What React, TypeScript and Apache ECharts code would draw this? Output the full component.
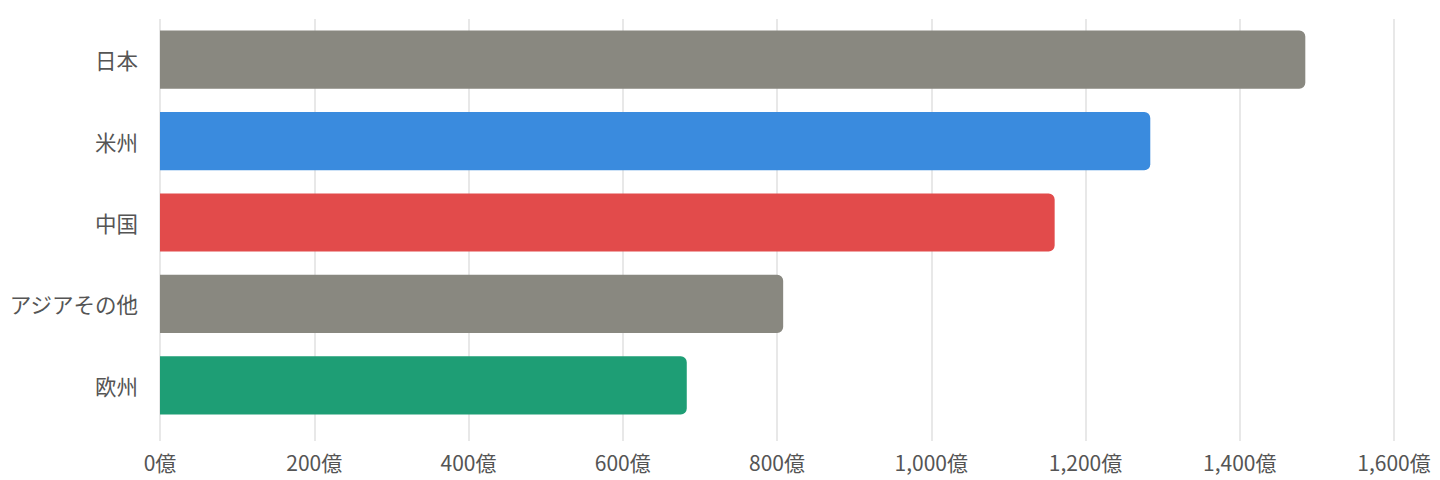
import React, { useEffect, useRef } from "react";
import * as echarts from "echarts";

const categories = ["日本", "米州", "中国", "アジアその他", "欧州"];
const values = [1485, 1284, 1160, 808, 683];
const barColors = ["#898880", "#3a8bde", "#e24b4b", "#898880", "#1e9e75"];
const xTicks = [0, 200, 400, 600, 800, 1000, 1200, 1400, 1600];

export default function App() {
  const ref = useRef<HTMLDivElement>(null);
  useEffect(() => {
    document.body.style.margin = "0";
    if (!ref.current) return;
    const chart = echarts.init(ref.current, undefined, { renderer: "svg" });
    const font = "'Noto Sans CJK JP', 'Noto Sans', sans-serif";
    const xMin = xTicks[0];
    const xMax = xTicks[xTicks.length - 1];
    chart.setOption({
      animation: false,
      grid: [
        { left: 160, right: 46, top: 19, bottom: 54, containLabel: false },
        { left: 160, right: 46, top: 19, bottom: 39, containLabel: false },
      ],
      xAxis: [
        {
          gridIndex: 0,
          type: "value",
          min: xMin,
          max: xMax,
          interval: 200,
          show: false,
          splitLine: { show: false },
        },
        {
          gridIndex: 1,
          type: "value",
          min: xMin,
          max: xMax,
          interval: 200,
          axisLine: { show: false },
          axisTick: { show: false },
          splitLine: { show: true, lineStyle: { color: "#e8e8e8", width: 2 } },
          axisLabel: {
            color: "#555555",
            fontSize: 21,
            fontFamily: font,
            margin: 10,
            formatter: (v: number) => v.toLocaleString("en-US") + "億",
          },
        },
      ],
      yAxis: [
        {
          gridIndex: 0,
          type: "category",
          data: categories,
          inverse: true,
          axisLine: { show: false },
          axisTick: { show: false },
          axisLabel: { color: "#555555", fontSize: 21.5, fontFamily: font, margin: 22 },
          z: 3,
        },
        {
          gridIndex: 1,
          type: "value",
          show: false,
          splitLine: { show: false },
        },
      ],
      series: [
        {
          type: "bar",
          xAxisIndex: 0,
          yAxisIndex: 0,
          barWidth: "71.5%",
          z: 3,
          data: values.map((v, i) => ({
            value: v,
            itemStyle: { color: barColors[i], borderRadius: [0, 6, 6, 0] },
          })),
        },
      ],
    });
    return () => chart.dispose();
  }, []);
  return <div ref={ref} style={{ width: 1440, height: 480 }} />;
}
